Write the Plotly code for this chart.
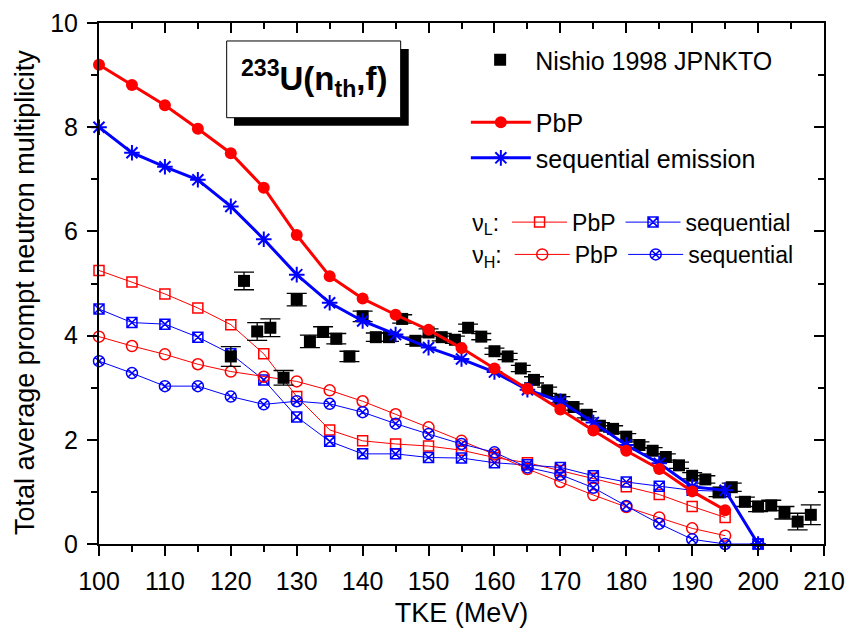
import plotly.graph_objects as go

# ---------------- data ----------------
tke_model = [100, 105, 110, 115, 120, 125, 130, 135, 140, 145, 150,
             155, 160, 165, 170, 175, 180, 185, 190, 195, 200]
tke_pbp = tke_model[:20]

nu_tot_pbp = [9.20, 8.81, 8.42, 7.97, 7.50, 6.84, 5.93, 5.14, 4.71, 4.40,
              4.11, 3.76, 3.37, 2.98, 2.58, 2.18, 1.79, 1.44, 1.01, 0.65]
nu_tot_seq = [8.00, 7.51, 7.24, 6.99, 6.48, 5.85, 5.17, 4.63, 4.28, 4.02,
              3.77, 3.55, 3.30, 2.96, 2.74, 2.33, 1.90, 1.55, 1.10, 1.03, 0.00]
nu_L_pbp = [5.25, 5.03, 4.80, 4.53, 4.21, 3.65, 2.83, 2.19, 1.98, 1.92,
            1.88, 1.80, 1.66, 1.56, 1.41, 1.26, 1.10, 0.95, 0.72, 0.51]
nu_H_pbp = [3.98, 3.80, 3.64, 3.45, 3.31, 3.21, 3.12, 2.95, 2.74, 2.49,
            2.24, 1.98, 1.72, 1.44, 1.19, 0.94, 0.71, 0.51, 0.30, 0.16]
nu_L_seq = [4.51, 4.25, 4.22, 3.97, 3.65, 3.15, 2.44, 1.97, 1.73, 1.73,
            1.66, 1.65, 1.56, 1.52, 1.47, 1.31, 1.19, 1.11, 1.03, 1.01, 0.00]
nu_H_seq = [3.51, 3.28, 3.03, 3.03, 2.83, 2.68, 2.74, 2.69, 2.53, 2.31,
            2.11, 1.92, 1.76, 1.47, 1.33, 1.08, 0.73, 0.39, 0.09, 0.00, 0.00]

tke_exp = [120, 122, 124, 126, 128, 130, 132, 134, 136, 138, 140, 142, 144,
           146, 148, 150, 152, 154, 156, 158, 160, 162, 164, 166, 168, 170,
           172, 174, 176, 178, 180, 182, 184, 186, 188, 190, 192, 194, 196,
           198, 200, 202, 204, 206, 208]
nu_exp = [3.60, 5.05, 4.08, 4.15, 3.19, 4.69, 3.89, 4.07, 3.94, 3.60, 4.37,
          3.97, 3.97, 4.32, 3.90, 4.06, 3.97, 3.92, 4.15, 3.98, 3.70, 3.60,
          3.37, 3.15, 2.95, 2.77, 2.63, 2.48, 2.27, 2.21, 2.06, 1.90, 1.79,
          1.67, 1.51, 1.31, 1.24, 0.99, 1.09, 0.81, 0.72, 0.74, 0.60, 0.43,
          0.56]
err_exp = [0.19, 0.17, 0.17, 0.17, 0.14, 0.12, 0.12, 0.10, 0.10, 0.10, 0.10,
           0.08, 0.08, 0.08, 0.07, 0.07, 0.07, 0.07, 0.07, 0.06, 0.06, 0.06,
           0.06, 0.06, 0.06, 0.06, 0.06, 0.06, 0.06, 0.06, 0.06, 0.06, 0.06,
           0.06, 0.06, 0.06, 0.07, 0.08, 0.08, 0.09, 0.10, 0.10, 0.12, 0.16,
           0.19]

x_ticks = [100, 110, 120, 130, 140, 150, 160, 170, 180, 190, 200, 210]
y_ticks = [0, 2, 4, 6, 8, 10]

RED = "#ff0000"
BLUE = "#0000ff"
FONT = "Liberation Sans, Arial, sans-serif"

fig = go.Figure()

# thin partial-multiplicity curves
fig.add_trace(go.Scatter(
    x=tke_pbp, y=nu_L_pbp, mode="lines+markers", name="PbP",
    line=dict(color=RED, width=1),
    marker=dict(symbol="square-open", size=10, color=RED, line=dict(width=1.5, color=RED)),
    legend="legend3", cliponaxis=False))
fig.add_trace(go.Scatter(
    x=tke_model, y=nu_L_seq, mode="lines+markers", name="sequential",
    line=dict(color=BLUE, width=1),
    marker=dict(symbol="square-x-open", size=10, color=BLUE, line=dict(width=1.5, color=BLUE)),
    legend="legend3", cliponaxis=False))
fig.add_trace(go.Scatter(
    x=tke_pbp, y=nu_H_pbp, mode="lines+markers", name="PbP",
    line=dict(color=RED, width=1),
    marker=dict(symbol="circle-open", size=11, color=RED, line=dict(width=1.5, color=RED)),
    legend="legend4", cliponaxis=False))
fig.add_trace(go.Scatter(
    x=tke_model, y=nu_H_seq, mode="lines+markers", name="sequential",
    line=dict(color=BLUE, width=1),
    marker=dict(symbol="circle-x-open", size=11, color=BLUE, line=dict(width=1.5, color=BLUE)),
    legend="legend4", cliponaxis=False))

# experimental data
fig.add_trace(go.Scatter(
    x=tke_exp, y=nu_exp, mode="markers", name="Nishio 1998 JPNKTO",
    marker=dict(symbol="square", size=12, color="black"),
    error_y=dict(type="data", array=err_exp, visible=True, color="black",
                 thickness=1.3, width=10),
    legend="legend", cliponaxis=False))

# total multiplicity curves
fig.add_trace(go.Scatter(
    x=tke_model, y=nu_tot_seq, mode="lines+markers", name="sequential emission",
    line=dict(color=BLUE, width=3),
    marker=dict(symbol="asterisk-open", size=13, color=BLUE, line=dict(width=2, color=BLUE)),
    legend="legend2", cliponaxis=False))
fig.add_trace(go.Scatter(
    x=tke_pbp, y=nu_tot_pbp, mode="lines+markers", name="PbP",
    line=dict(color=RED, width=3),
    marker=dict(symbol="circle", size=12, color=RED),
    legend="legend2", cliponaxis=False))

axis_common = dict(showline=True, linecolor="black", linewidth=2,
                   tickcolor="black", tickwidth=2, ticklen=10,
                   showgrid=False, zeroline=False, automargin=False)

fig.update_layout(
    width=847, height=634,
    margin=dict(l=99, r=23, t=23, b=90, autoexpand=False),
    paper_bgcolor="white", plot_bgcolor="white",
    font=dict(family=FONT, size=25, color="black"),
    showlegend=True,
    xaxis=dict(range=[100, 210], tickvals=x_ticks, ticks="outside",
               minor=dict(dtick=5, ticks="outside", ticklen=6, tickcolor="black", tickwidth=2),
               tickfont=dict(size=25), ticklabelstandoff=4,
               title=dict(text="TKE (MeV)", font=dict(size=27), standoff=9),
               **axis_common),
    yaxis=dict(range=[0, 10], tickvals=y_ticks, ticks="outside",
               minor=dict(dtick=1, ticks="outside", ticklen=6, tickcolor="black", tickwidth=2),
               tickfont=dict(size=25), ticklabelstandoff=4,
               **axis_common),
    xaxis2=dict(range=[100, 210], overlaying="x", side="top", tickvals=x_ticks,
                ticks="inside", showticklabels=False,
                minor=dict(dtick=5, ticks="inside", ticklen=6, tickcolor="black", tickwidth=2),
                **axis_common),
    yaxis2=dict(range=[0, 10], overlaying="y", side="right", tickvals=y_ticks,
                ticks="inside", showticklabels=False,
                minor=dict(dtick=1, ticks="inside", ticklen=6, tickcolor="black", tickwidth=2),
                **axis_common),
    legend=dict(x=0.505, y=0.973, xanchor="left", yanchor="top", itemwidth=60,
                bgcolor="rgba(0,0,0,0)", font=dict(size=25)),
    legend2=dict(x=0.506, y=0.853, xanchor="left", yanchor="top",
                 traceorder="reversed", itemwidth=60,
                 bgcolor="rgba(0,0,0,0)", font=dict(size=25), tracegroupgap=0),
    legend3=dict(x=0.512, y=0.659, xanchor="left", yanchor="top", orientation="h",
                 itemwidth=55,
                 bgcolor="rgba(0,0,0,0)", font=dict(size=23),
                 title=dict(text="ν<sub>L</sub>:", side="left", font=dict(size=23))),
    legend4=dict(x=0.512, y=0.597, xanchor="left", yanchor="top", orientation="h",
                 itemwidth=55,
                 bgcolor="rgba(0,0,0,0)", font=dict(size=23),
                 title=dict(text="ν<sub>H</sub>:", side="left", font=dict(size=23))),
)

# y-axis title placed as rotated text
fig.add_annotation(xref="paper", yref="paper", x=-0.102, y=0.482,
                   xanchor="center", yanchor="middle", showarrow=False,
                   textangle=-90, text="Total average prompt neutron multiplicity",
                   font=dict(size=27, family=FONT, color="black"))

# dummy invisible trace so the mirror axes are drawn
fig.add_trace(go.Scatter(x=[], y=[], xaxis="x2", yaxis="y2", showlegend=False, hoverinfo="skip"))

# title box with shadow
fig.add_shape(type="rect", xref="paper", yref="paper",
              x0=0.1862, x1=0.4272, y0=0.8029, y1=0.9501,
              fillcolor="black", line=dict(width=0))
fig.add_shape(type="rect", xref="paper", yref="paper",
              x0=0.1761, x1=0.4161, y0=0.8182, y1=0.9655,
              fillcolor="white", line=dict(color="black", width=1))
fig.add_annotation(xref="paper", yref="paper", x=0.2961, y=0.893,
                   xanchor="center", yanchor="middle", showarrow=False,
                   text="<b><sup>233</sup>U(n<sub>th</sub>,f)</b>",
                   font=dict(size=33, family=FONT, color="black"))

fig.write_html("out.html")
